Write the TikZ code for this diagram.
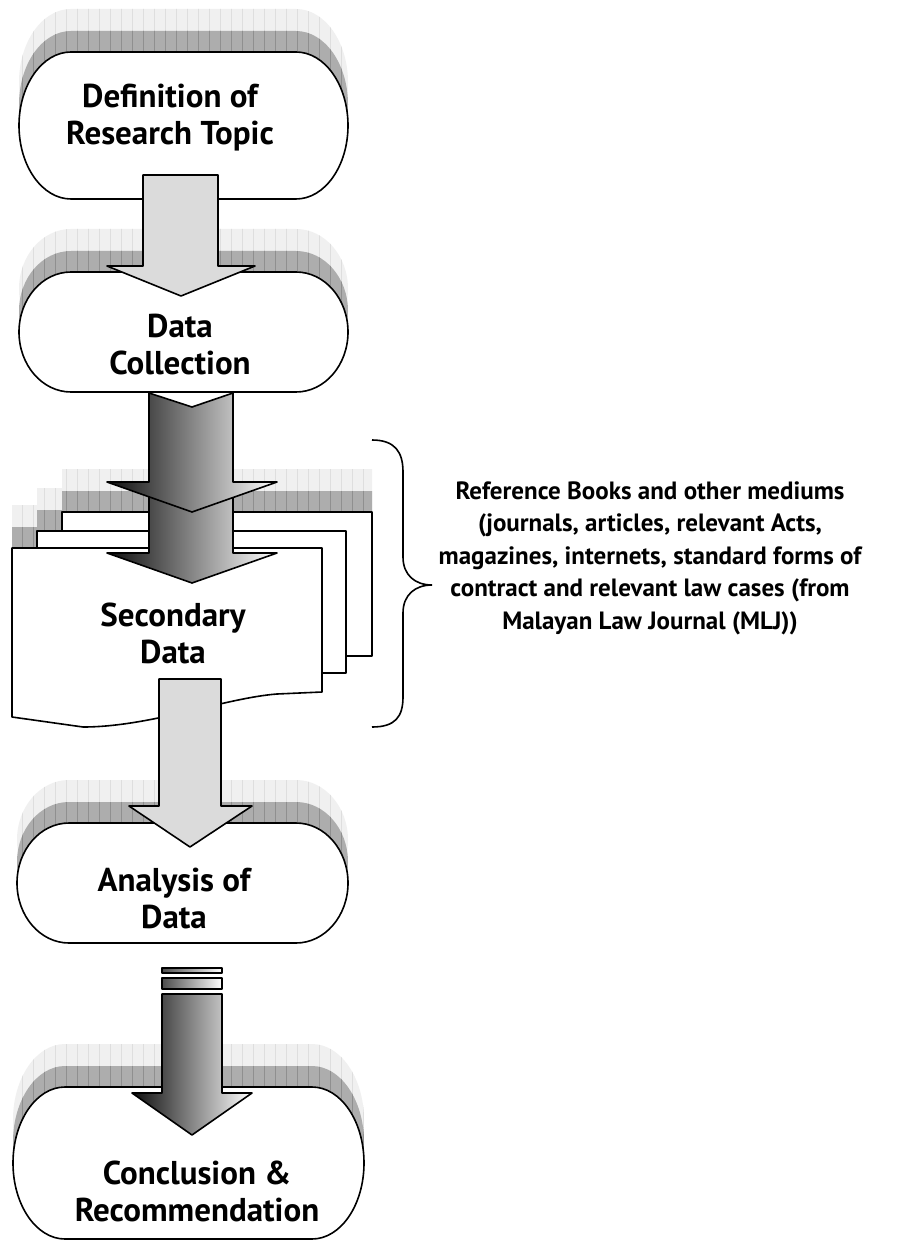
\documentclass[tikz,border=0pt]{standalone}
\usepackage{fontspec}
\setmainfont{PT Sans}
\begin{document}
\begin{tikzpicture}[x=1pt,y=-1pt,
  outline/.style={draw=black,line width=1.6pt,line join=round},
  boxtext/.style={font=\bfseries\fontsize{33}{37}\selectfont,align=center,inner sep=0pt},
  sidetext/.style={font=\bfseries\fontsize{25}{32.5}\selectfont,align=center,inner sep=0pt},
  flatarrow/.style={outline,fill=black!14},
  shadearrow/.style={outline,left color=black!95,right color=white},
]
\newcommand\termshape[4]{(#1+52,#2) -- (#3-52,#2) arc[start angle=-90,end angle=90,x radius=52,y radius={(#4-#2)/2}] -- (#1+52,#4) arc[start angle=90,end angle=270,x radius=52,y radius={(#4-#2)/2}] -- cycle}
\newcommand\gridfill[3]{\fill[#1] (0,0) rectangle (921,1241); \draw[#2,line width=0.5pt,step=#3] (0,0) grid (921,1241);}
\newcommand\termshadows[4]{%
  \begin{scope}\clip[shift={(0,-43)}] \termshape{#1}{#2}{#3}{#4}; \gridfill{black!6}{black!13}{11}\end{scope}
  \begin{scope}\clip[shift={(0,-21)}] \termshape{#1}{#2}{#3}{#4}; \gridfill{black!32}{black!44}{11}\end{scope}}
\newcommand\rectshadows[4]{%
  \begin{scope}\clip (#1,#2-43) rectangle (#3,#4-43); \gridfill{black!6}{black!13}{11}\end{scope}}
\newcommand\rectdark[4]{%
  \begin{scope}\clip (#1,#2-21) rectangle (#3,#4-21); \gridfill{black!32}{black!44}{11}\end{scope}}

\useasboundingbox (0,0) rectangle (921,1241);
\fill[white] (0,0) rectangle (921,1241);

% ---- box 1
\termshadows{19}{52}{348}{199}
\draw[outline,fill=white] \termshape{19}{52}{348}{199};
% ---- box 2
\termshadows{19}{272}{348}{392}
\draw[outline,fill=white] \termshape{19}{272}{348}{392};

% ---- secondary data pages
\rectshadows{62}{512}{372}{656}
\rectshadows{37}{531}{346}{673}
\rectshadows{12}{548}{322}{700}
\rectdark{62}{512}{372}{656}
\rectdark{37}{531}{346}{673}
\rectdark{12}{548}{322}{700}
\draw[outline,fill=white] (62,512) rectangle (372,656);
\draw[outline,fill=white] (37,531) rectangle (346,673);
\draw[outline,fill=white] (12,548) -- (322,548) -- (322,692) -- (277,694)
  .. controls (225,698) and (150,727) .. (83,727) -- (12,717) -- cycle;

% ---- box 3
\termshadows{17}{823}{348}{943}
\draw[outline,fill=white] \termshape{17}{823}{348}{943};
% ---- box 4
\termshadows{13}{1087}{364}{1239}
\draw[outline,fill=white] \termshape{13}{1087}{364}{1239};

% ---- arrows
\draw[flatarrow] (143,175) -- (218,175) -- (218,266) -- (255,266) -- (181,296) -- (107,266) -- (143,266) -- cycle;
\draw[shadearrow] (149,480) -- (233,480) -- (233,553) -- (277,553) -- (192,583) -- (107,553) -- (149,553) -- cycle;
\draw[shadearrow] (149,393) -- (192,407) -- (233,393) -- (233,482) -- (277,482) -- (192,512) -- (107,482) -- (149,482) -- cycle;
\draw[flatarrow] (159,679) -- (221,679) -- (221,806) -- (252,806) -- (190,847) -- (129,806) -- (159,806) -- cycle;
\draw[outline,line width=1.2pt,left color=black!70,right color=white] (162,968) rectangle (222,973);
\draw[outline,line width=1.2pt,left color=black!70,right color=white] (162,978) rectangle (222,989);
\draw[shadearrow] (162,994) -- (222,994) -- (222,1093) -- (252,1093) -- (192,1135) -- (132,1093) -- (162,1093) -- cycle;

% ---- brace
\coordinate (bracetip) at (432,585);
\draw[line width=1.6pt] (372,440) .. controls (395,440) and (403,452) .. (403,472) -- (403,557)
  .. controls (403,575) and (415,585) .. (bracetip)
  .. controls (415,585) and (403,595) .. (403,613) -- (403,697)
  .. controls (403,717) and (395,727) .. (372,727);

% ---- texts
\node[boxtext] (def) at (170,118) {Definition of\\Research Topic};
\node[boxtext] (dc) at (180,345) {Data\\Collection};
\node[boxtext] (sd) at (173,633) {Secondary\\Data};
\node[boxtext] (an) at (174,898) {Analysis of\\Data};
\node[boxtext] (cr) at (197,1191) {Conclusion \&\\Recommendation};
\node[sidetext] (ref) at (650,558) {Reference Books and other mediums\\(journals, articles, relevant Acts,\\magazines, internets, standard forms of\\contract and relevant law cases (from\\Malayan Law Journal (MLJ))};
\end{tikzpicture}
\end{document}
